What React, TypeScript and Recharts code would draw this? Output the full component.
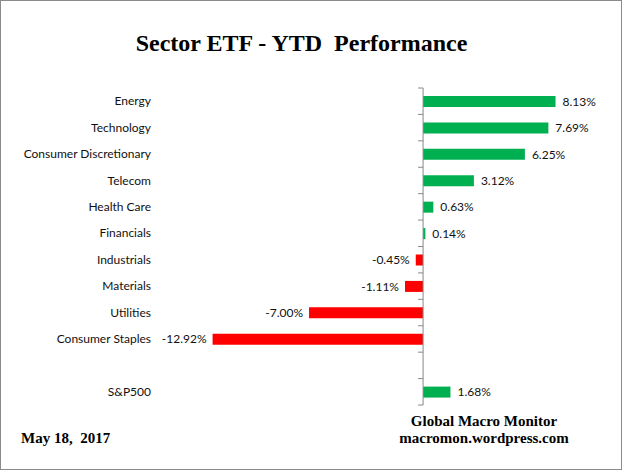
import React from "react";
import { BarChart, Bar, XAxis, YAxis, Cell, LabelList, ReferenceLine } from "recharts";

const sectors = [
  "Energy",
  "Technology",
  "Consumer Discretionary",
  "Telecom",
  "Health Care",
  "Financials",
  "Industrials",
  "Materials",
  "Utilities",
  "Consumer Staples",
  "",
  "S&P500",
];
const ytd: (number | null)[] = [8.13, 7.69, 6.25, 3.12, 0.63, 0.14, -0.45, -1.11, -7.0, -12.92, null, 1.68];

const data = sectors.map((name, i) => ({ name, value: ytd[i] }));

const W = 622;
const H = 470;
const MARGIN = { top: 88, right: 36, bottom: 65, left: 0 };
const Y_WIDTH = 195;
const DOMAIN: [number, number] = [-14, 10];
const PLOT_W = W - MARGIN.left - MARGIN.right - Y_WIDTH;
const PLOT_H = H - MARGIN.top - MARGIN.bottom;
const BAND = PLOT_H / sectors.length;
const ZERO_X = MARGIN.left + Y_WIDTH + ((0 - DOMAIN[0]) / (DOMAIN[1] - DOMAIN[0])) * PLOT_W;

const labelFont = "Lato, 'Open Sans', sans-serif";
const serif = "'Liberation Serif', 'Times New Roman', serif";

const CategoryTick = (props: any) => {
  const { x, y, payload, index } = props;
  const top = y - BAND / 2;
  return (
    <g>
      <text x={x} y={y} dy="0.35em" textAnchor="end" fontSize={12} fontFamily={labelFont} fill="#111">
        {payload.value}
      </text>
      <line x1={ZERO_X - 5} x2={ZERO_X} y1={top} y2={top} stroke="#888" />
      {index === sectors.length - 1 && (
        <line x1={ZERO_X - 5} x2={ZERO_X} y1={y + BAND / 2} y2={y + BAND / 2} stroke="#888" />
      )}
    </g>
  );
};

const ValueLabel = (props: any) => {
  const { x, y, width, height, value } = props;
  if (value === null || value === undefined) return null;
  const left = Math.min(x, x + width);
  const right = Math.max(x, x + width);
  const neg = value < 0;
  return (
    <text
      x={neg ? left - 6 : right + 7}
      y={y + height / 2}
      dy="0.35em"
      textAnchor={neg ? "end" : "start"}
      fontSize={12}
      fontFamily={labelFont}
      fill="#111"
    >
      {`${value.toFixed(2)}%`}
    </text>
  );
};

export default function App() {
  return (
    <div
      style={{
        position: "fixed",
        left: 0,
        top: 0,
        width: W,
        height: H,
        background: "#fff",
        boxSizing: "border-box",
        border: "1px solid #8a8a8a",
        overflow: "hidden",
      }}
    >
      <div
        style={{
          position: "absolute",
          left: 0,
          top: 29,
          width: 601,
          textAlign: "center",
          fontFamily: serif,
          fontWeight: "bold",
          fontSize: 24,
          whiteSpace: "pre",
        }}
      >
        {"Sector ETF - YTD  Performance"}
      </div>
      <div style={{ position: "absolute", left: -1, top: -1 }}>
        <BarChart width={W} height={H} data={data} layout="vertical" margin={MARGIN} barSize={11}>
          <XAxis type="number" domain={DOMAIN} hide allowDataOverflow />
          <YAxis
            type="category"
            dataKey="name"
            width={Y_WIDTH}
            axisLine={false}
            tickLine={false}
            tickSize={0}
            tickMargin={44}
            interval={0}
            tick={<CategoryTick />}
          />
          <Bar dataKey="value" isAnimationActive={false}>
            {data.map((d, i) => (
              <Cell key={`c-${i}`} fill={(d.value ?? 0) < 0 ? "#ff0000" : "#00b050"} />
            ))}
            <LabelList dataKey="value" content={<ValueLabel />} />
          </Bar>
          <ReferenceLine x={0} stroke="#888" />
        </BarChart>
      </div>
      <div
        style={{
          position: "absolute",
          left: 383,
          top: 412,
          width: 200,
          textAlign: "center",
          fontFamily: serif,
          fontWeight: "bold",
          fontSize: 15,
          lineHeight: "17px",
        }}
      >
        <div>Global Macro Monitor</div>
        <div>macromon.wordpress.com</div>
      </div>
      <div
        style={{
          position: "absolute",
          left: 20,
          top: 429,
          fontFamily: serif,
          fontWeight: "bold",
          fontSize: 15,
          whiteSpace: "pre",
        }}
      >
        {"May 18,  2017"}
      </div>
    </div>
  );
}
